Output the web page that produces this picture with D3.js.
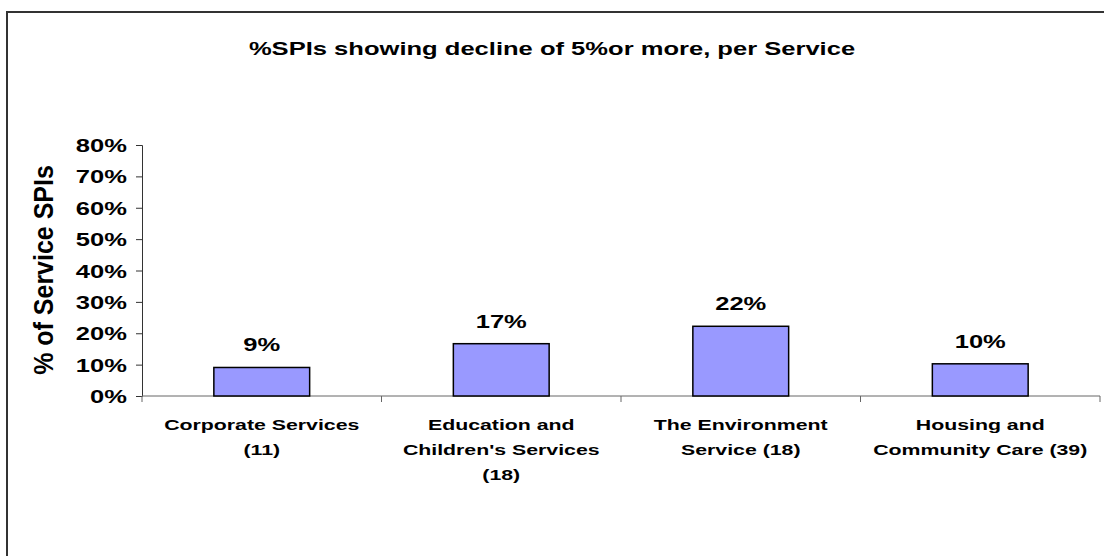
<!DOCTYPE html>
<html>
<head>
<meta charset="utf-8">
<script src="https://cdn.jsdelivr.net/npm/d3@7"></script>
<style>
  html, body { margin: 0; padding: 0; background: #fff; }
  svg { display: block; }
  text { font-family: "Liberation Sans", Arial, sans-serif; font-weight: bold; fill: #000; }
</style>
</head>
<body>
<svg id="chart" width="1104" height="556"></svg>
<script>
// ---- data ----
const categories = [
  "Corporate Services (11)",
  "Education and Children's Services (18)",
  "The Environment Service (18)",
  "Housing and Community Care (39)"
];
const categoryLines = [
  ["Corporate Services", "(11)"],
  ["Education and", "Children's Services", "(18)"],
  ["The Environment", "Service (18)"],
  ["Housing and", "Community Care (39)"]
];
const values = [0.0909, 0.1667, 0.2222, 0.1026];
const yTicks = [0, 0.1, 0.2, 0.3, 0.4, 0.5, 0.6, 0.7, 0.8];
const titleText = "%SPIs showing decline of 5%or more, per Service";
const yTitle = "% of Service SPIs";

// ---- layout ----
const SX = 1.42; // horizontal glyph stretch seen in the reference
const svg = d3.select("#chart");
const plotLeft = 142, plotRight = 1100, plotTop = 145, plotBottom = 396;

// outer frame
svg.append("rect")
  .attr("x", 7).attr("y", 12).attr("width", 1120).attr("height", 570)
  .attr("fill", "none").attr("stroke", "#333").attr("stroke-width", 2);

const x = d3.scaleBand().domain(categories).range([plotLeft, plotRight])
  .paddingInner(0.6).paddingOuter(0.3);
const y = d3.scaleLinear().domain([0, 0.8]).range([plotBottom, plotTop]);

// title
svg.append("text")
  .attr("transform", `translate(552,55) scale(${SX},1)`)
  .attr("text-anchor", "middle")
  .style("font-size", "18px")
  .text(titleText);

// y axis
const yAxis = svg.append("g").attr("transform", `translate(${plotLeft},0)`)
  .call(d3.axisLeft(y).tickValues(yTicks).tickSize(6).tickFormat(d3.format(".0%")));
yAxis.select(".domain").attr("stroke", "#333").attr("stroke-width", 1);
yAxis.selectAll(".tick line").attr("stroke", "#333");
yAxis.selectAll(".tick text").each(function() {
  const t = d3.select(this);
  t.attr("x", null).attr("dy", null)
   .attr("text-anchor", "end")
   .attr("transform", `translate(-15,6.5) scale(${SX},1)`)
   .style("font-size", "18px");
});

// x axis with tick marks at band boundaries
const xAxisG = svg.append("g").attr("transform", `translate(0,${plotBottom})`);
xAxisG.append("line").attr("x1", plotLeft).attr("x2", plotRight)
  .attr("y1", 0).attr("y2", 0).attr("stroke", "#666").attr("stroke-width", 1);
const bounds = [plotLeft].concat(categories.map((c, i) => plotLeft + x.step() * (i + 1)));
xAxisG.selectAll("line.tk").data(bounds).join("line").attr("class", "tk")
  .attr("x1", d => d).attr("x2", d => d).attr("y1", 0).attr("y2", 6)
  .attr("stroke", "#666");

// bars
svg.selectAll("rect.bar").data(values).join("rect").attr("class", "bar")
  .attr("x", (d, i) => x(categories[i]))
  .attr("width", x.bandwidth())
  .attr("y", d => y(d))
  .attr("height", d => y(0) - y(d))
  .attr("fill", "#9999FF").attr("stroke", "#000").attr("stroke-width", 1.5);

// data labels
svg.selectAll("text.val").data(values).join("text").attr("class", "val")
  .attr("transform", (d, i) => `translate(${x(categories[i]) + x.bandwidth()/2},${y(d) - 16}) scale(${SX},1)`)
  .attr("text-anchor", "middle")
  .style("font-size", "18px")
  .text(d => d3.format(".0%")(d));

// category labels
categoryLines.forEach((lines, i) => {
  const cx = x(categories[i]) + x.bandwidth() / 2;
  lines.forEach((ln, j) => {
    svg.append("text")
      .attr("transform", `translate(${cx},${430 + j * 25}) scale(${SX},1)`)
      .attr("text-anchor", "middle")
      .style("font-size", "15px")
      .text(ln);
  });
});

// y axis title
svg.append("text")
  .attr("transform", `translate(53,270) scale(1.1,1) rotate(-90)`)
  .attr("text-anchor", "middle")
  .style("font-size", "25px")
  .text(yTitle);
</script>
</body>
</html>
